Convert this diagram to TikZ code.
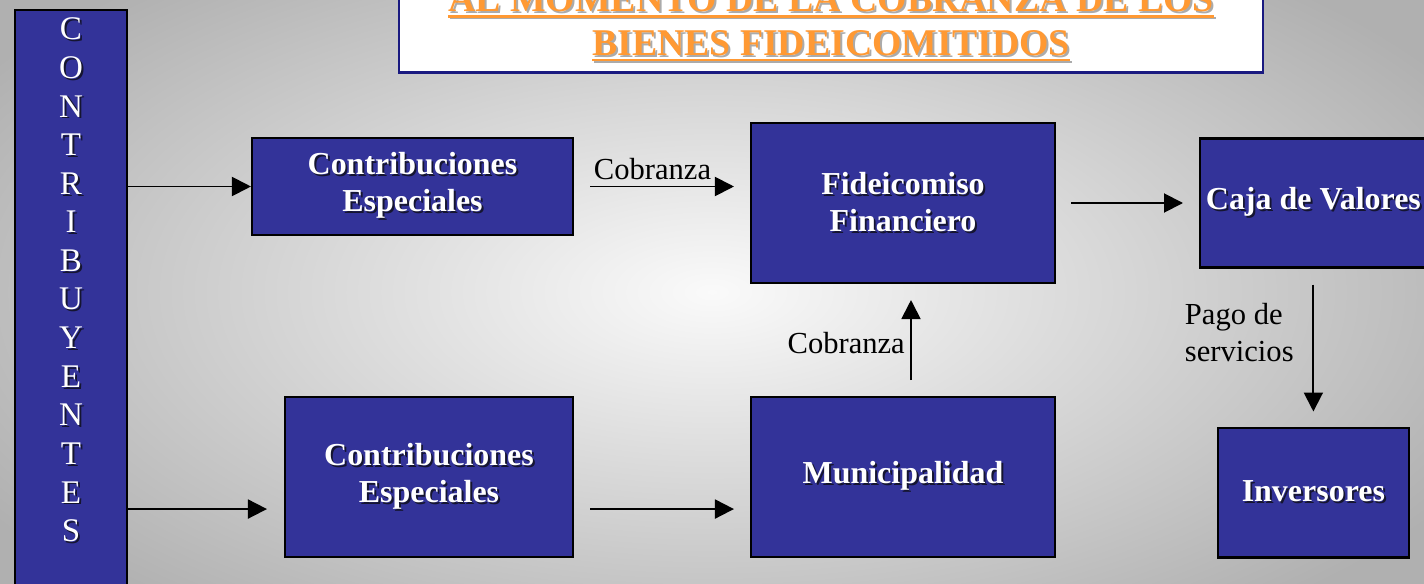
\documentclass[tikz,border=0pt]{standalone}
\usepackage{fontspec}
\setmainfont{Liberation Serif}
\usetikzlibrary{positioning,arrows.meta}

\definecolor{boxblue}{HTML}{333399}
\definecolor{titleorange}{HTML}{FF9933}
\definecolor{titlenavy}{HTML}{1A1A80}
\definecolor{shadowdark}{HTML}{151530}
\definecolor{shadowlight}{HTML}{ABABAB}

\newcommand{\dropshadow}[2]{\leavevmode\rlap{\kern1.1pt\raisebox{-1.1pt}{\textcolor{#1}{#2}}}#2}
\newcommand{\titleul}[1]{\setbox0\hbox{#1}\rlap{\rule[-3.4pt]{\wd0}{1.5pt}}\box0}
\newcommand{\lit}[1]{\dropshadow{shadowdark}{#1}}

\begin{document}
\begin{tikzpicture}[x=0.02cm,y=-0.02cm,>={Triangle[length=3.8mm,width=3.8mm]},
  node distance=2.24cm and 3.52cm,
  block/.style={draw=black,line width=1.2pt,fill=boxblue,text=white,align=center,
    font=\fontsize{18.2}{21}\selectfont\bfseries},
  flow/.style={->,line width=1.1pt},
  arrowtext/.style={font=\fontsize{17.4}{21}\selectfont,inner sep=3pt}]
\useasboundingbox (0,0) rectangle (1424,584);
\clip (0,0) rectangle (1424,584);
\shade[inner color=gray!4,outer color=gray!62] (-150,-120) rectangle (1574,704);

% contribuyentes
\node[draw=black,line width=1.2pt,fill=boxblue,minimum width=2.24cm,minimum height=11.8cm] (bar) at (71,305) {};
\foreach \ch [count=\i from 0] in {C,O,N,T,R,I,B,U,Y,E,N,T,E,S}
  \node[text=white,font=\fontsize{18.8}{22}\selectfont] (letter\i) at (71,{30+38.6*\i}) {\lit{\ch}};

% title
\node[draw=titlenavy,line width=1.2pt,fill=white,minimum width=17.28cm,minimum height=1.9cm,
  text=titleorange,align=center,font=\fontsize{21.5}{25}\selectfont\bfseries] (title) at (831,25)
  {\dropshadow{shadowlight}{\titleul{AL MOMENTO DE LA COBRANZA DE LOS}}\\
   \dropshadow{shadowlight}{\titleul{BIENES FIDEICOMITIDOS}}};

% boxes
\node[block,minimum width=6.08cm,minimum height=3.2cm] (ff) at (903,203) {\lit{Fideicomiso}\\\lit{Financiero}};
\node[block,minimum width=6.42cm,minimum height=1.94cm,yshift=0.33cm] (ce1) [left=of ff] {\lit{Contribuciones}\\\lit{Especiales}};
\node[block,minimum width=6.08cm,minimum height=3.2cm] (muni) [below=of ff] {\lit{Municipalidad}};
\node[block,minimum width=5.76cm,minimum height=3.2cm] (ce2) [left=of muni] {\lit{Contribuciones}\\\lit{Especiales}};
\node[block,minimum width=4.52cm,minimum height=2.58cm] (caja) [right=2.86cm of ff] {\lit{Caja de Valores}};
\node[block,minimum width=3.82cm,minimum height=2.6cm] (inv) [below=3.16cm of caja] {\lit{Inversores}};

% arrows
\draw[flow] (bar.east |- ce1.west) -- (ce1.west);
\coordinate (low) at ([yshift=-0.64cm]ce2.west);
\draw[flow,shorten >=0.34cm] (bar.east |- low) -- (low);
\draw[flow,shorten <=0.32cm,shorten >=0.32cm] (ce1.east) -- (ce1.east -| ff.west)
  node[midway,above,xshift=-0.19cm,arrowtext]{Cobranza};
\draw[flow,shorten <=0.3cm,shorten >=0.32cm] (ff.east) -- (ff.east -| caja.west);
\draw[flow,shorten <=0.32cm,shorten >=0.32cm] ([xshift=0.16cm]muni.north) -- ([xshift=0.16cm]ff.south)
  node[midway,left,yshift=-0.07cm,arrowtext]{Cobranza};
\draw[flow,shorten <=0.32cm,shorten >=0.3cm] (caja.south) -- (caja.south |- inv.north)
  node[midway,left,xshift=-0.27cm,yshift=0.3cm,align=left,arrowtext]{Pago de\\servicios};
\draw[flow,shorten <=0.32cm,shorten >=0.32cm] ([yshift=-0.64cm]ce2.east) -- ([yshift=-0.64cm]muni.west);
\end{tikzpicture}
\end{document}
